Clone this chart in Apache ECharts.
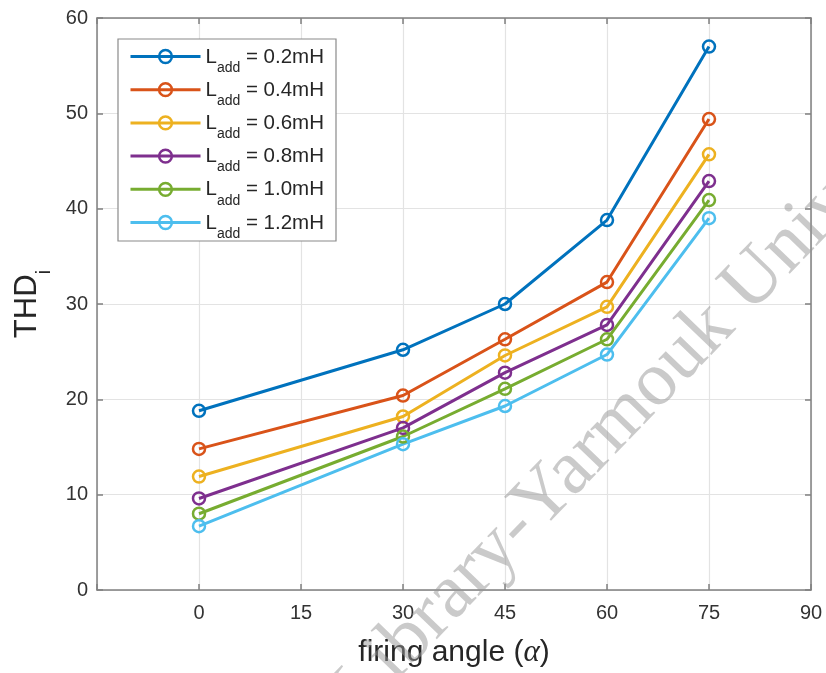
<!DOCTYPE html>
<html>
<head>
<meta charset="utf-8">
<script src="https://cdn.jsdelivr.net/npm/echarts@6/dist/echarts.min.js"></script>
<style>html,body{margin:0;padding:0;background:#fff;}#c{width:826px;height:673px;}</style>
</head>
<body>
<div id="c"></div>
<script>
var angles = [0, 30, 45, 60, 75];
var seriesNames = ['0.2mH', '0.4mH', '0.6mH', '0.8mH', '1.0mH', '1.2mH'];
var thd02 = [18.8, 25.2, 30.0, 38.8, 57.0];
var thd04 = [14.8, 20.4, 26.3, 32.3, 49.4];
var thd06 = [11.9, 18.2, 24.6, 29.7, 45.7];
var thd08 = [9.6, 17.0, 22.8, 27.8, 42.9];
var thd10 = [8.0, 16.1, 21.1, 26.3, 40.9];
var thd12 = [6.7, 15.3, 19.3, 24.7, 39.0];
var xTicks = [0, 15, 30, 45, 60, 75, 90];
var yTicks = [0, 10, 20, 30, 40, 50, 60];

var colors = ['#0072BD', '#D95319', '#EDB120', '#7E2F8E', '#77AC30', '#4DBEEE'];
var allData = [thd02, thd04, thd06, thd08, thd10, thd12];
var FONT = '"Liberation Sans", Arial, Helvetica, sans-serif';

var series = allData.map(function (d, i) {
  return {
    name: seriesNames[i],
    type: 'line',
    data: angles.map(function (a, j) { return [a, d[j]]; }),
    symbol: 'circle',
    symbolSize: 12,
    lineStyle: { color: colors[i], width: 3 },
    itemStyle: { color: 'rgba(255,255,255,0)', borderColor: colors[i], borderWidth: 2.5 },
    emphasis: { disabled: true },
    animation: false
  };
});

var axisLineStyle = { color: '#808080', width: 1.5 };

var chart = echarts.init(document.getElementById('c'), null, { renderer: 'canvas' });
chart.setOption({
  backgroundColor: '#fff',
  color: colors,
  animation: false,
  grid: { left: 97, right: 15, top: 18, bottom: 79, containLabel: false },
  legend: {
    orient: 'vertical',
    left: 118,
    top: 39,
    padding: [7.5, 12, 0, 11],
    itemGap: 4.7,
    itemWidth: 70,
    itemHeight: 16,
    backgroundColor: '#fff',
    borderColor: '#8a8a8a',
    borderWidth: 1.2,
    lineStyle: { width: 3 },
    itemStyle: { borderWidth: 2.5 },
    data: seriesNames,
    formatter: function (name) { return '{l|L}{s|add}{l| = ' + name + '}'; },
    textStyle: {
      rich: {
        l: { fontFamily: FONT, fontSize: 20.5, color: '#262626', lineHeight: 20, verticalAlign: 'top' },
        s: { fontFamily: FONT, fontSize: 14, color: '#262626', lineHeight: 14, padding: [14.5, 0, 0, 0], verticalAlign: 'top' }
      }
    }
  },
  xAxis: [{
    type: 'value', min: -15, max: 90, interval: 15,
    name: 'firing angle ({g|α})',
    nameLocation: 'middle', nameGap: 47,
    nameTextStyle: {
      fontFamily: FONT, fontSize: 30, color: '#262626',
      rich: { g: { fontFamily: '"Liberation Serif", "DejaVu Serif", serif', fontStyle: 'italic', fontSize: 31, color: '#262626' } }
    },
    axisLine: { show: true, onZero: false, lineStyle: axisLineStyle },
    axisTick: { show: true, inside: true, length: 6, lineStyle: axisLineStyle },
    axisLabel: {
      fontFamily: FONT, fontSize: 20, color: '#333', margin: 13,
      formatter: function (v) { return xTicks.indexOf(v) >= 0 ? String(v) : ''; }
    },
    splitLine: { show: true, lineStyle: { color: '#e3e3e3', width: 1.2 } }
  }, {
    type: 'value', min: -15, max: 90, interval: 15, position: 'top',
    axisLine: { show: true, onZero: false, lineStyle: axisLineStyle },
    axisTick: { show: true, inside: true, length: 6, lineStyle: axisLineStyle },
    axisLabel: { show: false },
    splitLine: { show: false }
  }],
  yAxis: [{
    type: 'value', min: 0, max: 60, interval: 10,
    name: 'THD{s|i}',
    nameLocation: 'middle', nameRotate: 90, nameGap: 42,
    nameTextStyle: {
      fontFamily: FONT, fontSize: 31, color: '#262626', lineHeight: 32, verticalAlign: 'top',
      rich: {
        s: { fontFamily: FONT, fontSize: 21, color: '#262626', lineHeight: 22, padding: [22, 0, 0, 0], verticalAlign: 'top' }
      }
    },
    axisLine: { show: true, onZero: false, lineStyle: axisLineStyle },
    axisTick: { show: true, inside: true, length: 6, lineStyle: axisLineStyle },
    axisLabel: {
      fontFamily: FONT, fontSize: 20, color: '#333', margin: 9,
      formatter: function (v) { return yTicks.indexOf(v) >= 0 ? String(v) : ''; }
    },
    splitLine: { show: true, lineStyle: { color: '#e3e3e3', width: 1.2 } }
  }, {
    type: 'value', min: 0, max: 60, interval: 10, position: 'right',
    axisLine: { show: true, onZero: false, lineStyle: axisLineStyle },
    axisTick: { show: true, inside: true, length: 6, lineStyle: axisLineStyle },
    axisLabel: { show: false },
    splitLine: { show: false }
  }],
  graphic: [{
    type: 'text',
    x: 347, y: 703,
    rotation: 46 * Math.PI / 180,
    silent: true,
    z: 100,
    style: {
      text: 'Library-Yarmouk University',
      font: '77px "Liberation Serif", "Times New Roman", serif',
      fill: 'rgba(150,150,150,0.5)',
      align: 'left',
      verticalAlign: 'middle'
    }
  }],
  series: series
});
</script>
</body>
</html>
